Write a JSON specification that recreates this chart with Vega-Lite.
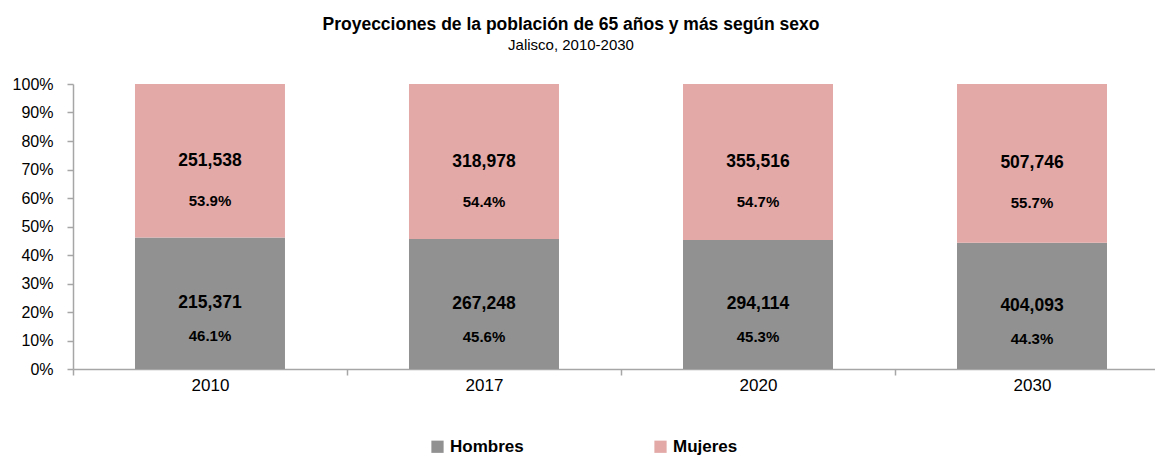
{
  "$schema": "https://vega.github.io/schema/vega-lite/v6.json",
  "width": 1082,
  "height": 285,
  "autosize": {"type": "none"},
  "padding": {"left": 73, "top": 84, "right": 0, "bottom": 89},
  "background": "white",
  "config": {
    "view": {"stroke": null},
    "font": "Liberation Sans",
    "axisY": {
      "grid": false,
      "labelOverlap": false,
      "labelFontSize": 16,
      "labelColor": "#000000",
      "labelPadding": 14,
      "tickSize": 6,
      "tickColor": "#a6a6a6",
      "domainColor": "#a6a6a6",
      "domainWidth": 1.5,
      "tickWidth": 1.5
    }
  },
  "title": {
    "text": "Proyecciones de la población de 65 años y más según sexo",
    "subtitle": "Jalisco, 2010-2030",
    "anchor": "middle",
    "frame": "group",
    "dx": -43,
    "fontSize": 17.5,
    "fontWeight": "bold",
    "color": "#000000",
    "subtitleFontSize": 15,
    "subtitleColor": "#000000",
    "subtitlePadding": 5,
    "offset": 23,
    "font": "Liberation Sans",
    "subtitleFont": "Liberation Sans"
  },
  "data": {
    "values": [
      {"year": "2010", "sexo": "Hombres", "value": 215371, "pct": 0.461},
      {"year": "2010", "sexo": "Mujeres", "value": 251538, "pct": 0.539},
      {"year": "2017", "sexo": "Hombres", "value": 267248, "pct": 0.456},
      {"year": "2017", "sexo": "Mujeres", "value": 318978, "pct": 0.544},
      {"year": "2020", "sexo": "Hombres", "value": 294114, "pct": 0.453},
      {"year": "2020", "sexo": "Mujeres", "value": 355516, "pct": 0.547},
      {"year": "2030", "sexo": "Hombres", "value": 404093, "pct": 0.443},
      {"year": "2030", "sexo": "Mujeres", "value": 507746, "pct": 0.557}
    ]
  },
  "transform": [
    {"stack": "value", "groupby": ["year"], "sort": [{"field": "sexo", "order": "ascending"}], "offset": "normalize", "as": ["y0", "y1"]},
    {"calculate": "(datum.y0 + datum.y1) / 2", "as": "ymid"}
  ],
  "encoding": {
    "x": {
      "field": "year",
      "type": "ordinal",
      "title": null,
      "scale": {"paddingInner": 0.4526, "paddingOuter": 0.2007, "align": 0.5636},
      "axis": {
        "labelAngle": 0,
        "labelFontSize": 17,
        "labelColor": "#000000",
        "labelPadding": 2,
        "tickOffset": -137,
        "labelOffset": 137,
        "tickSize": 6,
        "tickColor": "#a6a6a6",
        "domainColor": "#a6a6a6",
        "domainWidth": 1.5,
        "tickWidth": 1.5
      }
    }
  },
  "layer": [
    {
      "mark": {"type": "bar", "strokeWidth": 0},
      "encoding": {
        "y": {
          "field": "y1",
          "type": "quantitative",
          "title": null,
          "scale": {"domain": [0, 1]},
          "axis": {"values": [0, 0.1, 0.2, 0.3, 0.4, 0.5, 0.6, 0.7, 0.8, 0.9, 1], "format": ".0%", "title": null}
        },
        "y2": {"field": "y0"},
        "color": {
          "field": "sexo",
          "type": "nominal",
          "scale": {"domain": ["Hombres", "Mujeres"], "range": ["#919191", "#e3a9a7"]},
          "legend": {
            "title": null,
            "orient": "none",
            "legendX": 356,
            "legendY": 354,
            "direction": "horizontal",
            "symbolType": "square",
            "symbolSize": 150,
            "symbolStrokeWidth": 0,
            "labelFontSize": 17,
            "labelFontWeight": "bold",
            "labelColor": "#000000",
            "labelOffset": 4,
            "columnPadding": 128
          }
        }
      }
    },
    {
      "transform": [{"filter": "datum.sexo == 'Mujeres'"}],
      "layer": [
        {
          "mark": {"type": "text", "fontSize": 17.5, "fontWeight": "bold", "color": "#000000"},
          "encoding": {"y": {"field": "ymid", "type": "quantitative", "title": null, "axis": {"values": [0, 0.1, 0.2, 0.3, 0.4, 0.5, 0.6, 0.7, 0.8, 0.9, 1], "format": ".0%", "title": null}}, "text": {"field": "value", "format": ","}}
        },
        {
          "mark": {"type": "text", "fontSize": 15, "fontWeight": "bold", "color": "#000000", "dy": 40},
          "encoding": {"y": {"field": "ymid", "type": "quantitative", "title": null, "axis": {"values": [0, 0.1, 0.2, 0.3, 0.4, 0.5, 0.6, 0.7, 0.8, 0.9, 1], "format": ".0%", "title": null}}, "text": {"field": "pct", "format": ".1%"}}
        }
      ]
    },
    {
      "transform": [{"filter": "datum.sexo == 'Hombres'"}],
      "layer": [
        {
          "mark": {"type": "text", "fontSize": 17.5, "fontWeight": "bold", "color": "#000000"},
          "encoding": {"y": {"field": "ymid", "type": "quantitative", "title": null, "axis": {"values": [0, 0.1, 0.2, 0.3, 0.4, 0.5, 0.6, 0.7, 0.8, 0.9, 1], "format": ".0%", "title": null}}, "text": {"field": "value", "format": ","}}
        },
        {
          "mark": {"type": "text", "fontSize": 15, "fontWeight": "bold", "color": "#000000", "dy": 33},
          "encoding": {"y": {"field": "ymid", "type": "quantitative", "title": null, "axis": {"values": [0, 0.1, 0.2, 0.3, 0.4, 0.5, 0.6, 0.7, 0.8, 0.9, 1], "format": ".0%", "title": null}}, "text": {"field": "pct", "format": ".1%"}}
        }
      ]
    }
  ]
}
